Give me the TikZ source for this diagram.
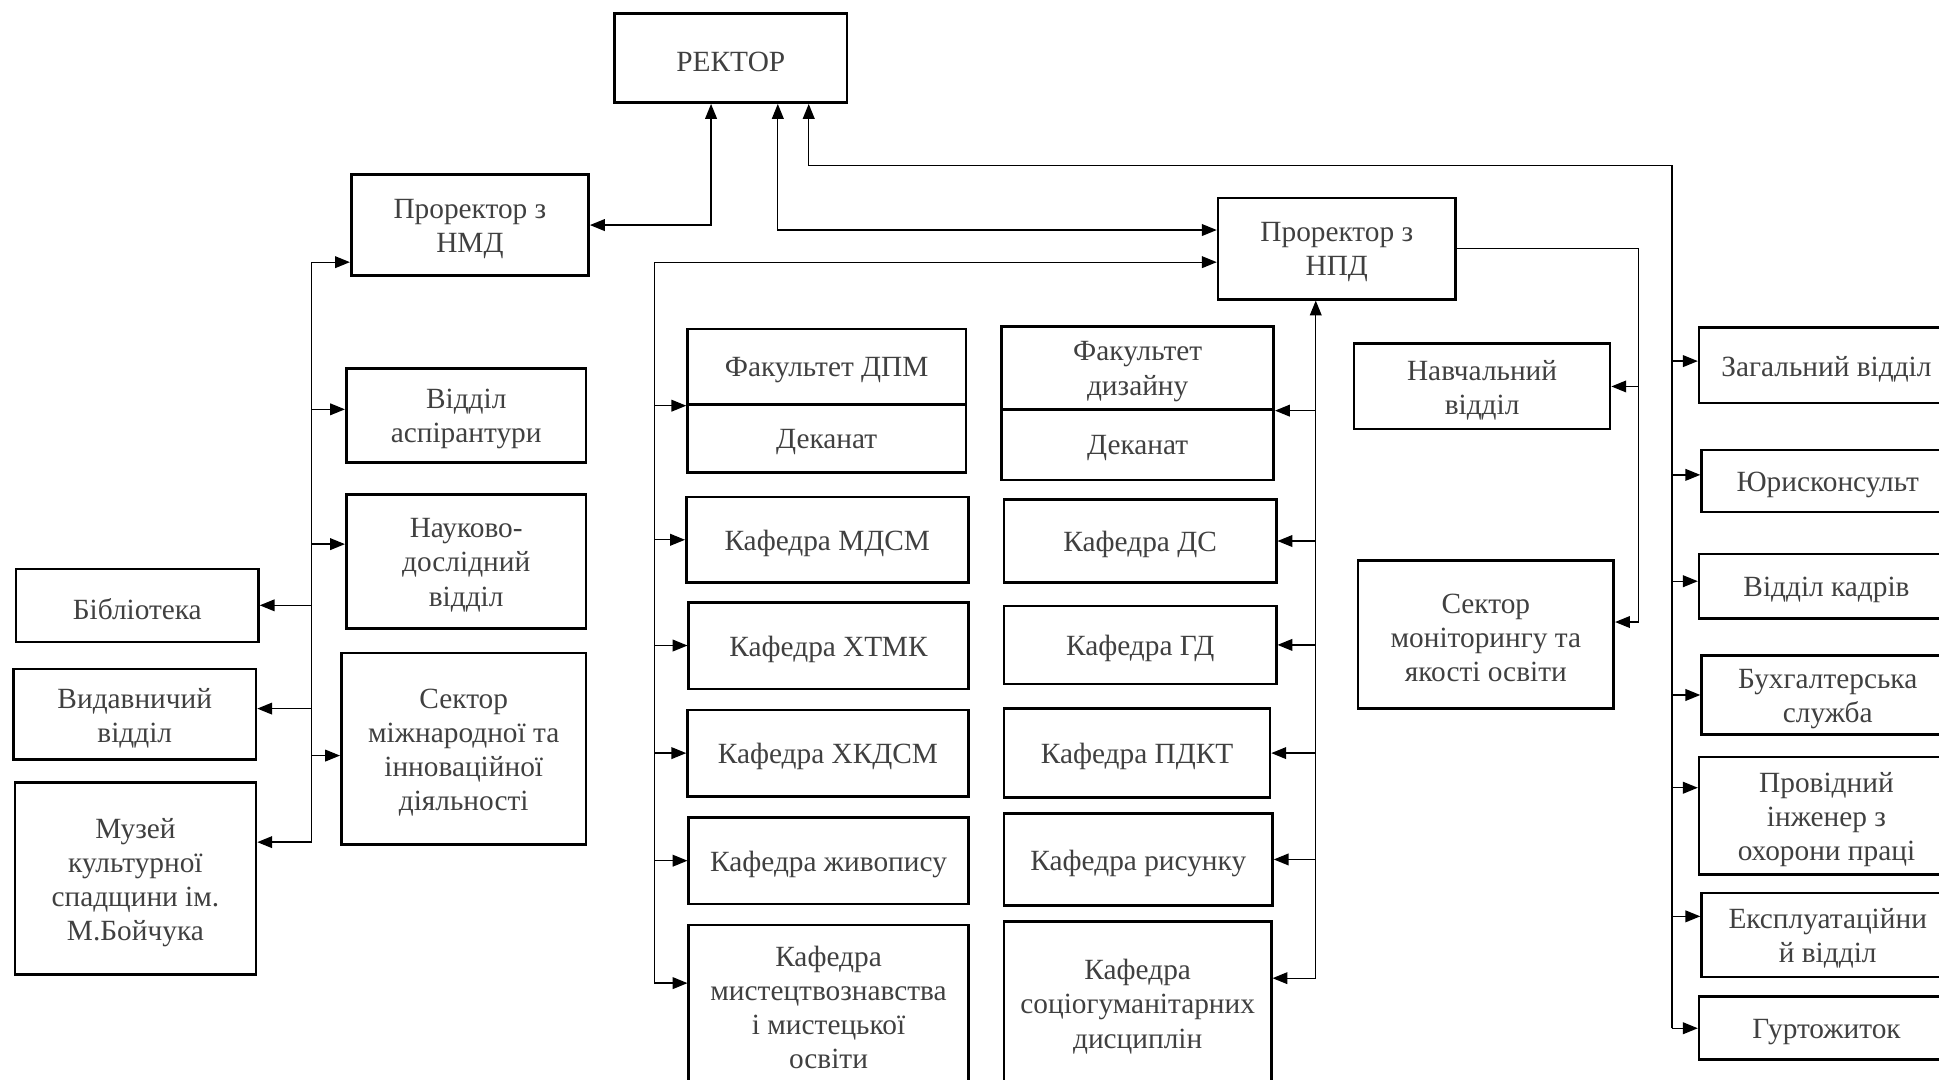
\documentclass[tikz,border=0pt]{standalone}
\usepackage{fontspec}
\setmainfont{Liberation Serif}
\usepackage{tikz}
\usetikzlibrary{arrows.meta,positioning,fit}
\definecolor{txtgray}{RGB}{64,64,64}
\tikzstyle{unitbox} = [rectangle, draw=black, line width=1.2pt, inner sep=0pt]
\tikzstyle{boxtext} = [align=center, text=txtgray, inner sep=0pt, yshift=-0.06cm, font=\fontsize{13.5}{15.7}\selectfont]
\tikzstyle{link} = [line width=0.6pt, ->, >={Triangle[length=0.24cm,width=0.19cm]}]
\tikzstyle{dlink} = [line width=0.6pt, <->, >={Triangle[length=0.24cm,width=0.19cm]}]
\tikzstyle{plain} = [line width=0.6pt]

\begin{document}
\begin{tikzpicture}[x=0.02cm, y=-0.02cm]
\useasboundingbox (0,0) rectangle (1568,873);

% top
\node[unitbox, fit={(497,11) (685,83)}, label={[boxtext]center:РЕКТОР}] (rector) {};
\node[unitbox, fit={(284,141) (476,223)}, label={[boxtext]center:Проректор з\\НМД}] (nmd) {};
\node[unitbox, fit={(985,160) (1177,242)}, label={[boxtext]center:Проректор з\\НПД}] (npd) {};

% left
\node[unitbox, fit={(280,298) (474,374)}, label={[boxtext]center:Відділ\\аспірантури}] (asp) {};
\node[unitbox, fit={(280,400) (474,508)}, label={[boxtext]center:Науково-\\дослідний\\відділ}] (ndv) {};
\node[unitbox, fit={(276,528) (474,683)}, label={[boxtext]center:Сектор\\міжнародної та\\інноваційної\\діяльності}] (smid) {};
\node[unitbox, fit={(13,460) (209,519)}, label={[boxtext]center:Бібліотека}] (bib) {};
\node[unitbox, fit={(11,541) (207,614)}, label={[boxtext]center:Видавничий\\відділ}] (vyd) {};
\node[unitbox, fit={(12,633) (207,788)}, label={[boxtext]center:Музей\\культурної\\спадщини ім.\\М.Бойчука}] (muz) {};

% faculty DPM
\node[unitbox, fit={(556,266) (781,327)}, label={[boxtext]center:Факультет ДПМ}] (fdpm) {};
\node[unitbox, fit={(556,327) (781,382)}, label={[boxtext]center:Деканат}] (fdpmdek) {};
\node[unitbox, fit={(555,402) (783,471)}, label={[boxtext]center:Кафедра МДСМ}] (mdsm) {};
\node[unitbox, fit={(557,487) (783,557)}, label={[boxtext]center:Кафедра ХТМК}] (htmk) {};
\node[unitbox, fit={(556,574) (783,644)}, label={[boxtext]center:Кафедра ХКДСМ}] (hkdsm) {};
\node[unitbox, fit={(557,661) (783,731)}, label={[boxtext]center:Кафедра живопису}] (zhyv) {};
\node[unitbox, fit={(557,748) (783,875)}, label={[boxtext]center:Кафедра\\мистецтвознавства\\і мистецької\\освіти}] (myst) {};

% faculty design
\node[unitbox, fit={(810,264) (1030,331)}, label={[boxtext]center:Факультет\\дизайну}] (fdyz) {};
\node[unitbox, fit={(810,331) (1030,388)}, label={[boxtext]center:Деканат}] (fdyzdek) {};
\node[unitbox, fit={(812,404) (1032,471)}, label={[boxtext]center:Кафедра ДС}] (ds) {};
\node[unitbox, fit={(812,490) (1032,553)}, label={[boxtext]center:Кафедра ГД}] (gd) {};
\node[unitbox, fit={(812,573) (1027,645)}, label={[boxtext]center:Кафедра ПДКТ}] (pdkt) {};
\node[unitbox, fit={(812,658) (1029,732)}, label={[boxtext]center:Кафедра рисунку}] (rys) {};
\node[unitbox, fit={(812,745) (1028,877)}, label={[boxtext]center:Кафедра\\соціогуманітарних\\дисциплін}] (sgd) {};

% NPD
\node[unitbox, fit={(1095,278) (1302,347)}, label={[boxtext]center:Навчальний\\відділ}] (navch) {};
\node[unitbox, fit={(1098,453) (1305,573)}, label={[boxtext]center:Сектор\\моніторингу та\\якості освіти}] (smyo) {};

% services
\node[unitbox, fit={(1374,265) (1580,326)}, label={[boxtext]center:Загальний відділ}] (zag) {};
\node[unitbox, fit={(1376,364) (1580,414)}, label={[boxtext]center:Юрисконсульт}] (yur) {};
\node[unitbox, fit={(1374,448) (1580,500)}, label={[boxtext]center:Відділ кадрів}] (kadr) {};
\node[unitbox, fit={(1376,530) (1580,594)}, label={[boxtext]center:Бухгалтерська\\служба}] (buh) {};
\node[unitbox, fit={(1374,612) (1580,707)}, label={[boxtext]center:Провідний\\інженер з\\охорони праці}] (inzh) {};
\node[unitbox, fit={(1376,722) (1580,790)}, label={[boxtext]center:Експлуатаційни\\й відділ}] (ekspl) {};
\node[unitbox, fit={(1374,806) (1580,857)}, label={[boxtext]center:Гуртожиток}] (gurt) {};

\coordinate (lbot) at (252,681);
\coordinate (mlbot) at (529,795);
\coordinate (mrbot) at (1064,791);
\coordinate (nbot) at (1325,503);
\coordinate (rtop) at (1352,134);

\draw[dlink] (nmd.east) -| ([xshift=-0.32cm]rector.south);
\draw[dlink] ([yshift=0.3cm]npd.west) -| ([xshift=0.76cm]rector.south);
\draw[link] (gurt.west -| rtop) -- (rtop) -| ([xshift=1.26cm]rector.south);

\draw[link] (lbot) |- ([yshift=-0.6cm]nmd.west);
\draw[link] ([yshift=0.1cm]asp.west -| lbot) -- ([yshift=0.1cm]asp.west);
\draw[link] ([yshift=0.28cm]ndv.west -| lbot) -- ([yshift=0.28cm]ndv.west);
\draw[link] ([yshift=-0.11cm]smid.west -| lbot) -- ([yshift=-0.11cm]smid.west);
\draw[link] (bib.east -| lbot) -- (bib.east);
\draw[link] ([yshift=0.09cm]vyd.east -| lbot) -- ([yshift=0.09cm]vyd.east);
\draw[link] (lbot) -- (lbot -| muz.east);

\draw[link] (mlbot) |- ([yshift=-0.22cm]npd.west);
\draw[link] (fdpm.south west -| mlbot) -- (fdpm.south west);
\draw[link] (mdsm.west -| mlbot) -- (mdsm.west);
\draw[link] (htmk.west -| mlbot) -- (htmk.west);
\draw[link] (hkdsm.west -| mlbot) -- (hkdsm.west);
\draw[link] (zhyv.west -| mlbot) -- (zhyv.west);
\draw[link] (mlbot) -- (mlbot -| myst.west);

\draw[link] (mrbot) -- (mrbot |- npd.south);
\draw[link] (fdyz.south east -| mrbot) -- (fdyz.south east);
\draw[link] (ds.east -| mrbot) -- (ds.east);
\draw[link] (gd.east -| mrbot) -- (gd.east);
\draw[link] (pdkt.east -| mrbot) -- (pdkt.east);
\draw[link] (rys.east -| mrbot) -- (rys.east);
\draw[link] (mrbot) -- (mrbot -| sgd.east);

\draw[plain] (npd.east) -| (nbot);
\draw[link] (navch.east -| nbot) -- (navch.east);
\draw[link] (nbot) -- (nbot -| smyo.east);

\draw[link] ([yshift=0.07cm]zag.west -| rtop) -- ([yshift=0.07cm]zag.west);
\draw[link] ([yshift=0.1cm]yur.west -| rtop) -- ([yshift=0.1cm]yur.west);
\draw[link] ([yshift=0.08cm]kadr.west -| rtop) -- ([yshift=0.08cm]kadr.west);
\draw[link] (buh.west -| rtop) -- (buh.west);
\draw[link] ([yshift=0.45cm]inzh.west -| rtop) -- ([yshift=0.45cm]inzh.west);
\draw[link] ([yshift=0.3cm]ekspl.west -| rtop) -- ([yshift=0.3cm]ekspl.west);
\draw[link] (gurt.west -| rtop) -- (gurt.west);
\end{tikzpicture}
\end{document}
